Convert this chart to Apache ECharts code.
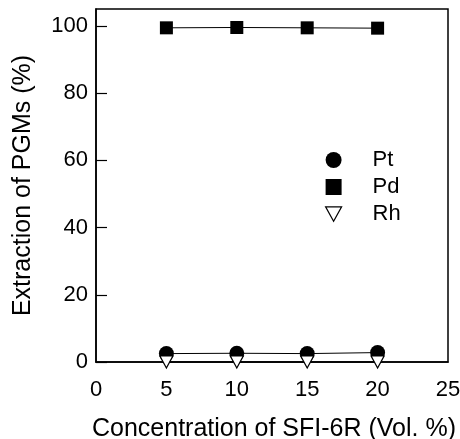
<!DOCTYPE html>
<html>
<head>
<meta charset="utf-8">
<script src="https://cdn.jsdelivr.net/npm/echarts@6/dist/echarts.min.js"></script>
<style>html,body{margin:0;padding:0;background:#fff}#c{width:460px;height:439px}</style>
</head>
<body>
<div id="c"></div>
<script>
const concentration = [5, 10, 15, 20];
const ptValues = [2.5, 2.6, 2.5, 2.8];
const pdValues = [99.4, 99.5, 99.4, 99.3];
const rhValues = [0, 0, 0, 0];
const seriesNames = ['Pt', 'Pd', 'Rh'];
const xTicks = [0, 5, 10, 15, 20, 25];
const yTicks = [0, 20, 40, 60, 80, 100];

const font = "'Liberation Sans', Arial, sans-serif";
const pair = v => concentration.map((x, i) => [x, v[i]]);
const triPath = 'path://M0,0 L10,0 L5,9 Z';

const chart = echarts.init(document.getElementById('c'));
chart.setOption({
  animation: false,
  backgroundColor: '#fff',
  grid: { left: 96, right: 12, top: 9, bottom: 77, show: true, borderColor: '#000', borderWidth: 1.5,
    backgroundColor: 'transparent', containLabel: false, outerBoundsMode: 'none' },
  legend: {
    orient: 'vertical', left: 320, top: 144, itemWidth: 16, itemHeight: 16, itemGap: 5,
    textStyle: { fontFamily: font, fontSize: 22, color: '#000', padding: [0, 0, 0, 26] },
    data: [
      { name: 'Pt', icon: 'circle', itemStyle: { color: '#000' } },
      { name: 'Pd', icon: 'rect', itemStyle: { color: '#000' } },
      { name: 'Rh', icon: triPath, itemStyle: { color: '#fff', borderColor: '#000', borderWidth: 1.2 } }
    ]
  },
  xAxis: {
    type: 'value', min: 0, max: 25, interval: 5,
    name: 'Concentration of SFI-6R (Vol. %)', nameLocation: 'middle', nameGap: 55,
    nameTextStyle: { fontFamily: font, fontSize: 25, color: '#000', padding: [0, 0, 0, 4] },
    axisLine: { lineStyle: { color: '#000', width: 1.5 } },
    axisTick: { show: false },
    splitLine: { show: false },
    axisLabel: { fontFamily: font, fontSize: 22, color: '#000', margin: 17,
      formatter: v => xTicks.includes(v) ? String(v) : '' }
  },
  yAxis: {
    type: 'value', min: 0, max: 105, interval: 20,
    name: 'Extraction of PGMs (%)', nameLocation: 'middle', nameGap: 60,
    nameTextStyle: { fontFamily: font, fontSize: 25, color: '#000' },
    axisLine: { lineStyle: { color: '#000', width: 1.5 } },
    axisTick: { inside: true, length: 11, lineStyle: { color: '#000', width: 1.2 } },
    splitLine: { show: false },
    axisLabel: { fontFamily: font, fontSize: 22, color: '#000', margin: 8, showMaxLabel: false,
      formatter: v => yTicks.includes(v) ? String(v) : '' }
  },
  series: [
    { name: seriesNames[0], type: 'line', data: pair(ptValues), symbol: 'circle', symbolSize: 15, clip: false,
      itemStyle: { color: '#000' }, lineStyle: { color: '#000', width: 1 } },
    { name: seriesNames[1], type: 'line', data: pair(pdValues), symbol: 'rect', symbolSize: 13, clip: false,
      itemStyle: { color: '#000' }, lineStyle: { color: '#000', width: 1 } },
    { name: seriesNames[2], type: 'line', data: pair(rhValues), symbol: triPath, symbolSize: [13, 12], clip: false,
      itemStyle: { color: '#fff', borderColor: '#000', borderWidth: 1.2 }, lineStyle: { color: '#000', width: 1 } }
  ]
});
</script>
</body>
</html>
